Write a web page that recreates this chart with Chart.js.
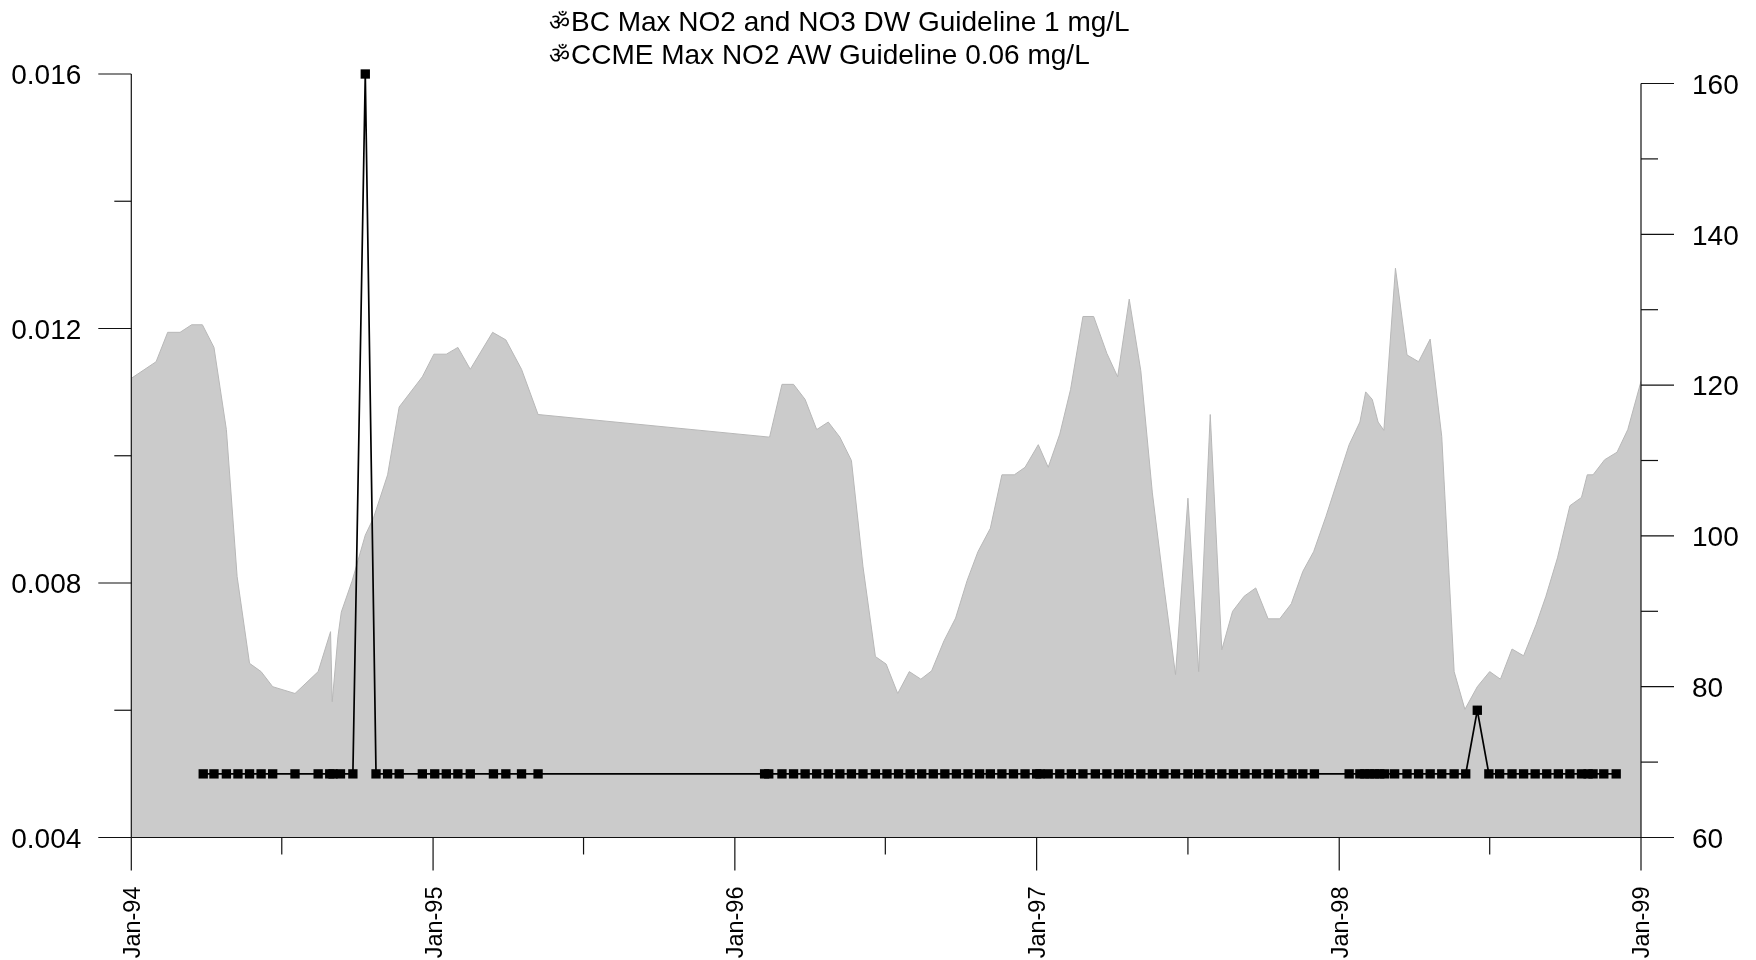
<!DOCTYPE html>
<html>
<head>
<meta charset="utf-8">
<title>NO2 and flow</title>
<script src="https://cdn.jsdelivr.net/npm/chart.js@4/dist/chart.umd.min.js"></script>
<style>
    body { margin: 0; background: #fff; }
    #wrap { width: 1756px; height: 960px; }
</style>
</head>
<body>
<div id="wrap"><canvas id="chart"></canvas></div>
<script>
'use strict';

// x values are days since 1 Jan 1994
const flowDays = [0, 30, 44, 59, 73, 86, 100, 115, 128, 143, 157, 171, 198, 226, 241, 243, 250, 254, 267, 283,
    293, 310, 324, 352, 366, 381, 395, 410, 437, 453, 472, 492, 772, 787, 801, 815, 829, 843, 857, 871,
    885, 900, 913, 927, 941, 955, 968, 983, 997, 1011, 1024, 1039, 1053, 1068, 1081, 1097, 1109, 1123, 1136, 1151,
    1164, 1180, 1193, 1207, 1221, 1235, 1249, 1263, 1278, 1291, 1305, 1319, 1332, 1346, 1360, 1375, 1389, 1403, 1417, 1430,
    1445, 1473, 1486, 1493, 1501, 1508, 1515, 1529, 1543, 1557, 1571, 1585, 1600, 1613, 1628, 1643, 1656, 1670, 1684, 1699,
    1711, 1725, 1740, 1754, 1761, 1768, 1782, 1797, 1810, 1826];
const flowValues = [120.9, 123.1, 127.0, 127.0, 128.0, 128.0, 125.0, 114.1, 94.6, 83.1, 82.0, 80.0, 79.1, 82.0, 87.3, 78.0, 86.7, 89.9, 94.0, 100.1,
    102.4, 108.1, 117.1, 121.1, 124.1, 124.1, 125.0, 122.1, 127.0, 126.0, 122.1, 116.1, 113.1, 120.1, 120.1, 118.1, 114.1, 115.1, 113.1, 110.0,
    95.9, 84.0, 83.0, 79.1, 82.0, 81.0, 82.1, 86.1, 89.1, 94.1, 97.9, 101.0, 108.1, 108.1, 109.1, 112.1, 109.1, 113.5, 119.4, 129.1,
    129.1, 124.2, 121.1, 131.4, 121.9, 105.7, 93.3, 81.6, 105.0, 82.0, 116.1, 84.9, 90.0, 92.0, 93.1, 89.0, 89.0, 91.0, 95.3, 97.9,
    102.6, 112.1, 115.1, 119.1, 118.1, 115.1, 114.0, 135.5, 124.0, 123.1, 126.1, 113.2, 82.0, 77.0, 80.0, 82.0, 81.0, 85.0, 84.1, 88.2,
    92.0, 97.1, 104.0, 105.1, 108.1, 108.1, 110.1, 111.1, 114.1, 120.5];

const no2Days = [87, 100, 115, 129, 143, 157, 171, 198, 226, 240, 244, 253, 268, 283, 296, 310, 324, 352, 367, 381,
    395, 410, 438, 453, 472, 492, 766, 771, 787, 801, 815, 829, 843, 857, 871, 885, 900, 914, 928, 942,
    956, 970, 984, 998, 1012, 1026, 1039, 1053, 1067, 1081, 1095, 1099, 1109, 1123, 1137, 1151, 1166, 1180, 1194, 1207,
    1221, 1235, 1249, 1263, 1278, 1291, 1305, 1319, 1333, 1347, 1361, 1375, 1389, 1404, 1417, 1431, 1473, 1486, 1492, 1498,
    1504, 1510, 1516, 1528, 1543, 1557, 1571, 1585, 1600, 1614, 1628, 1642, 1655, 1670, 1684, 1698, 1712, 1726, 1740, 1754,
    1762, 1768, 1781, 1796];
const no2Values = [0.005, 0.005, 0.005, 0.005, 0.005, 0.005, 0.005, 0.005, 0.005, 0.005, 0.005, 0.005, 0.005, 0.016, 0.005, 0.005, 0.005, 0.005, 0.005, 0.005,
    0.005, 0.005, 0.005, 0.005, 0.005, 0.005, 0.005, 0.005, 0.005, 0.005, 0.005, 0.005, 0.005, 0.005, 0.005, 0.005, 0.005, 0.005, 0.005, 0.005,
    0.005, 0.005, 0.005, 0.005, 0.005, 0.005, 0.005, 0.005, 0.005, 0.005, 0.005, 0.005, 0.005, 0.005, 0.005, 0.005, 0.005, 0.005, 0.005, 0.005,
    0.005, 0.005, 0.005, 0.005, 0.005, 0.005, 0.005, 0.005, 0.005, 0.005, 0.005, 0.005, 0.005, 0.005, 0.005, 0.005, 0.005, 0.005, 0.005, 0.005,
    0.005, 0.005, 0.005, 0.005, 0.005, 0.005, 0.005, 0.005, 0.005, 0.005, 0.006, 0.005, 0.005, 0.005, 0.005, 0.005, 0.005, 0.005, 0.005, 0.005,
    0.005, 0.005, 0.005, 0.005];

const xMajorDays = [0, 365, 730, 1095, 1461, 1826];
const xMinorDays = [182, 547, 912, 1278, 1643];
const xLabels = ['Jan-94', 'Jan-95', 'Jan-96', 'Jan-97', 'Jan-98', 'Jan-99'];
const leftMajor = [0.004, 0.008, 0.012, 0.016];
const leftMinor = [0.006, 0.01, 0.014];
const rightMajor = [60, 80, 100, 120, 140, 160];
const rightMinor = [70, 90, 110, 130, 150];
const titleMark = '\u0950';
const titleLines = ['BC Max NO2 and NO3 DW Guideline 1 mg/L', 'CCME Max NO2 AW Guideline 0.06 mg/L'];

const FONT = '"Liberation Sans", Arial, sans-serif';
const MAJOR_LEN = 33;
const MINOR_LEN = 17;

function toPoints(xs, ys) {
    return xs.map((x, i) => ({ x: x, y: ys[i] }));
}

function allTicks(major, minor) {
    return major.concat(minor).sort((a, b) => a - b).map((v) => ({ value: v }));
}

// R style axes: ticks of two lengths, and lines that stop at the last tick
const axesPlugin = {
    id: 'axes',
    afterDatasetsDraw(chart) {
        const ctx = chart.ctx;
        const x = chart.scales.x, yl = chart.scales.y, yr = chart.scales.y2;
        const line = (x1, y1, x2, y2) => {
            ctx.beginPath();
            ctx.moveTo(x1, y1);
            ctx.lineTo(x2, y2);
            ctx.stroke();
        };
        const base = yl.getPixelForValue(0.004);
        ctx.save();
        ctx.strokeStyle = '#111';
        ctx.lineWidth = 1.2;
        line(x.left, yl.getPixelForValue(0.016), x.left, base);
        line(x.right, yr.getPixelForValue(160), x.right, base);
        line(x.left, base, x.right, base);
        leftMajor.forEach((v) => line(x.left, yl.getPixelForValue(v), x.left - MAJOR_LEN, yl.getPixelForValue(v)));
        leftMinor.forEach((v) => line(x.left, yl.getPixelForValue(v), x.left - MINOR_LEN, yl.getPixelForValue(v)));
        rightMajor.forEach((v) => line(x.right, yr.getPixelForValue(v), x.right + MAJOR_LEN, yr.getPixelForValue(v)));
        rightMinor.forEach((v) => line(x.right, yr.getPixelForValue(v), x.right + MINOR_LEN, yr.getPixelForValue(v)));
        xMajorDays.forEach((v) => line(x.getPixelForValue(v), base, x.getPixelForValue(v), base + MAJOR_LEN));
        xMinorDays.forEach((v) => line(x.getPixelForValue(v), base, x.getPixelForValue(v), base + MINOR_LEN));
        ctx.restore();
    },
    afterDraw(chart) {
        const ctx = chart.ctx;
        ctx.save();
        ctx.fillStyle = '#000';
        ctx.textBaseline = 'alphabetic';
        ctx.font = '23px ' + FONT;
        ctx.fillText(titleMark, 549, 30);
        ctx.fillText(titleMark, 549, 63);
        ctx.font = '28px ' + FONT;
        ctx.fillText(titleLines[0], 571, 31);
        ctx.fillText(titleLines[1], 571, 64);
        ctx.restore();
    }
};

new Chart(document.getElementById('chart'), {
    type: 'line',
    data: {
        datasets: [
            {
                label: 'NO2',
                yAxisID: 'y',
                data: toPoints(no2Days, no2Values),
                borderColor: '#000',
                borderWidth: 1.7,
                backgroundColor: '#000',
                pointStyle: 'rect',
                pointRadius: 6.6,
                pointBorderWidth: 0,
                tension: 0,
                fill: false,
                clip: false,
                order: 0
            },
            {
                label: 'Flow',
                yAxisID: 'y2',
                data: toPoints(flowDays, flowValues),
                borderColor: '#b8b8b8',
                borderWidth: 1,
                backgroundColor: '#cbcbcb',
                pointRadius: 0,
                tension: 0,
                fill: 'start',
                order: 1
            }
        ]
    },
    options: {
        responsive: true,
        maintainAspectRatio: false,
        animation: false,
        layout: { padding: { top: 74 } },
        plugins: { legend: { display: false }, tooltip: { enabled: false } },
        scales: {
            x: {
                type: 'linear',
                min: 0,
                max: 1826,
                grid: { display: false, drawTicks: false },
                border: { display: false },
                afterBuildTicks(scale) { scale.ticks = xMajorDays.map((v) => ({ value: v })); },
                afterFit(scale) { scale.height = 122.5; },
                ticks: {
                    autoSkip: false,
                    minRotation: 90,
                    maxRotation: 90,
                    padding: 49,
                    labelOffset: 2,
                    color: '#000',
                    font: { family: FONT, size: 23.5 },
                    callback: (v) => xLabels[xMajorDays.indexOf(v)]
                }
            },
            y: {
                type: 'linear',
                position: 'left',
                min: 0.004,
                max: 0.016,
                grid: { display: false, drawTicks: false },
                border: { display: false },
                afterBuildTicks(scale) { scale.ticks = allTicks(leftMajor, leftMinor); },
                afterFit(scale) { scale.width = 131.3; },
                ticks: {
                    autoSkip: false,
                    padding: 50,
                    labelOffset: 2.5,
                    color: '#000',
                    font: { family: FONT, size: 28 },
                    callback: (v) => leftMajor.includes(v) ? v.toFixed(3) : ''
                }
            },
            y2: {
                type: 'linear',
                position: 'right',
                min: 60,
                max: 161.26,
                grid: { display: false, drawTicks: false },
                border: { display: false },
                afterBuildTicks(scale) { scale.ticks = allTicks(rightMajor, rightMinor); },
                afterFit(scale) { scale.width = 115; },
                ticks: {
                    autoSkip: false,
                    padding: 51,
                    labelOffset: 2.5,
                    color: '#000',
                    font: { family: FONT, size: 28 },
                    callback: (v) => rightMajor.includes(v) ? String(v) : ''
                }
            }
        }
    },
    plugins: [axesPlugin]
});
</script>
</body>
</html>
